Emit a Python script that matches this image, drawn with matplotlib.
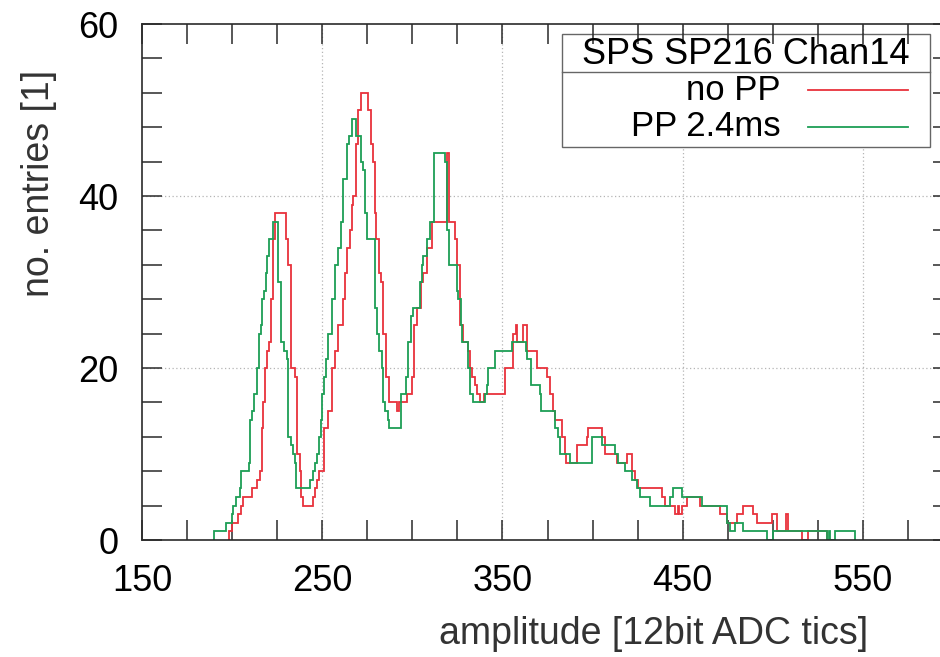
import matplotlib
matplotlib.use("Agg")
import matplotlib.pyplot as plt
from matplotlib.patches import Rectangle
from matplotlib.lines import Line2D

plt.rcParams["font.family"] = ["Liberation Sans", "DejaVu Sans"]

# ── histogram runs: left edge of each run (+ final edge), entries per run ──
red_x = [198.3, 199.7, 203.4, 204.7, 206.2, 210.8, 213.6, 215.5, 216.4, 217.3,
         218.2, 219.5, 220.6, 221.5, 222.5, 223.8, 229.9, 231.2, 232.5, 234.9,
         236.2, 237.5, 238.3, 239.2, 244.7, 246.0, 247.3, 248.4, 251.0, 253.0,
         255.2, 257.0, 258.6, 261.3, 262.6, 263.9, 265.4, 266.3, 267.2, 268.6,
         270.0, 271.3, 275.6, 276.9, 278.0, 279.3, 279.8, 281.7, 282.4, 283.9,
         285.4, 287.2, 291.3, 292.8, 296.9, 299.6, 300.9, 302.5, 304.6, 305.7,
         308.3, 310.7, 319.4, 320.5, 323.6, 324.6, 326.4, 327.9, 331.1, 332.0,
         332.9, 334.7, 335.7, 337.3, 340.0, 351.6, 356.0, 357.5, 357.9, 361.2,
         363.8, 369.0, 374.5, 376.3, 378.2, 379.1, 382.8, 384.6, 385.2, 391.2,
         396.7, 397.6, 405.0, 406.9, 413.4, 418.9, 421.7, 423.5, 425.4, 438.3,
         440.2, 445.7, 447.2, 448.2, 449.4, 452.2, 459.6, 470.7, 474.4, 479.9,
         483.6, 489.1, 491.0, 499.3, 502.5, 507.4, 508.2, 516.0, 519.3, 530.0]
red_n = [1, 2, 3, 4, 5, 6, 7, 8, 13,
         16, 20, 22, 23, 28, 35, 38, 35, 32, 20,
         19, 10, 8, 5, 4, 5, 6, 7, 8, 13,
         15, 20, 22, 25, 28, 31, 34, 36, 39, 40,
         46, 50, 52, 50, 46, 44, 38, 35, 31, 30,
         24, 19, 16, 15, 16, 17, 19, 25, 27, 30,
         31, 34, 37, 45, 37, 35, 32, 25, 23, 22,
         20, 19, 18, 17, 16, 17, 20, 24, 25, 23,
         25, 22, 20, 19, 17, 15, 14, 12, 10, 9,
         11, 12, 13, 12, 10, 9, 10, 8, 7, 6,
         5, 4, 3, 4, 3, 4, 5, 4, 3, 2,
         3, 4, 3, 2, 3, 1, 3, 1, 0, 1]

green_x = [190.1, 196.4, 199.7, 200.7, 202.0, 204.4, 204.8, 209.4, 210.0, 211.3,
           212.2, 213.6, 214.7, 215.8, 216.6, 217.7, 218.8, 219.5, 220.6, 222.5,
           225.6, 227.1, 228.8, 230.3, 231.2, 232.5, 233.9, 234.9, 235.4, 243.2,
           244.7, 246.0, 246.9, 248.4, 249.3, 249.9, 251.0, 251.9, 253.4, 255.2,
           257.1, 258.9, 260.2, 261.7, 263.6, 265.0, 266.3, 268.7, 271.3, 272.4,
           273.7, 275.0, 279.3, 280.2, 281.7, 283.0, 283.9, 284.8, 286.3, 287.2,
           293.7, 296.3, 297.7, 299.1, 300.5, 304.2, 305.2, 306.1, 308.3, 309.8,
           312.2, 318.1, 319.4, 320.5, 324.6, 325.5, 326.8, 327.4, 331.1, 332.0,
           333.5, 340.3, 341.2, 342.1, 345.8, 355.1, 363.0, 363.8, 365.6, 370.8,
           371.2, 379.1, 381.0, 381.9, 387.4, 399.5, 405.0, 412.4, 414.3, 418.0,
           421.7, 424.4, 426.3, 431.8, 442.9, 444.8, 449.4, 460.5, 474.4, 476.2,
           479.0, 483.6, 496.6, 500.2, 529.9, 531.4, 532.0, 534.5, 545.6]
green_n = [1, 2, 3, 4, 5, 6, 8, 9, 14,
           15, 17, 20, 24, 25, 28, 29, 31, 33, 35,
           37, 30, 23, 22, 21, 12, 11, 10, 9, 6,
           7, 8, 9, 10, 12, 14, 17, 19, 21, 24,
           28, 32, 34, 37, 42, 46, 47, 49, 47, 44,
           43, 38, 35, 27, 24, 22, 20, 16, 15, 14,
           13, 17, 19, 23, 26, 27, 30, 32, 33, 35,
           37, 45, 44, 36, 32, 29, 28, 25, 23, 20,
           17, 16, 17, 18, 20, 22, 23, 22, 21, 18,
           17, 15, 13, 12, 10, 9, 12, 11, 10, 9,
           8, 7, 6, 5, 4, 5, 6, 5, 4, 2,
           1, 2, 1, 0, 1, 0, 1, 0, 1]

x_major = [150, 250, 350, 450, 550]
y_major = [0, 20, 40, 60]
legend_title = "SPS SP216 Chan14"
series_labels = ["no PP", "PP 2.4ms"]

RED = "#e8323c"
GREEN = "#1c9e55"
AXC = "#2a2a2a"

W, H = 940, 657


def fx(px):
    return px / W


def fy(py):
    return 1 - py / H


fig = plt.figure(figsize=(9.4, 6.57), dpi=100)
fig.patch.set_facecolor("white")
# right edge of the frame sits just outside the canvas (as in the original)
ax = fig.add_axes([fx(142), fy(540), (953 - 142) / W, (540 - 24) / H])
ax.set_xlim(150, 600)
ax.set_ylim(0, 60)

# grid (behind everything)
for gx in x_major[1:]:
    ax.axvline(gx, color="#b5b5b5", lw=0.9, ls=(0, (1, 2)), zorder=0.5)
for gy in [20, 40]:
    ax.axhline(gy, color="#b5b5b5", lw=0.9, ls=(0, (1, 2)), zorder=0.5)

ax.stairs(red_n, red_x, color=RED, lw=1.3, zorder=2)
ax.stairs(green_n, green_x, color=GREEN, lw=1.3, zorder=2.1)

ax.set_xticks(x_major)
ax.set_xticks(range(150, 601, 25), minor=True)
ax.set_yticks(y_major)
ax.set_yticks(range(0, 61, 4), minor=True)
ax.tick_params(which="both", direction="in", length=14.4, width=1.1,
               color=AXC, top=True, right=True)
ax.tick_params(axis="x", which="major", labelsize=26, pad=17)
ax.tick_params(axis="y", which="major", labelsize=26, pad=17)
for sp in ax.spines.values():
    sp.set_color(AXC)
    sp.set_linewidth(1.2)

# legend box (gnuplot style, text right of samples)
ax.add_patch(Rectangle((fx(562), fy(147)), fx(930) - fx(562), fy(34) - fy(147),
                       transform=fig.transFigure, facecolor="white",
                       edgecolor="#666666", lw=1.0, zorder=1, clip_on=False))
ax.add_line(Line2D([fx(562), fx(930)], [fy(72), fy(72)], transform=fig.transFigure,
                   color="#666666", lw=1.0, zorder=1.1, clip_on=False))
fig.text(fx(746), fy(54), legend_title, ha="center", va="center", fontsize=26,
         color="black")
for lab, col, py in zip(series_labels, [RED, GREEN], [90, 127]):
    fig.text(fx(781), fy(py), lab, ha="right", va="center", fontsize=25,
             color="black")
    ax.add_line(Line2D([fx(808), fx(908)], [fy(py), fy(py)],
                       transform=fig.transFigure, color=col, lw=1.3,
                       zorder=3, clip_on=False))

fig.text(fx(39), fy(183), "no. entries [1]", rotation=90, ha="center",
         va="center", fontsize=27, color="#333333")
fig.text(fx(654), fy(634), "amplitude [12bit ADC tics]", ha="center",
         va="center", fontsize=27, color="#333333")

fig.savefig("out.png", dpi=100)
